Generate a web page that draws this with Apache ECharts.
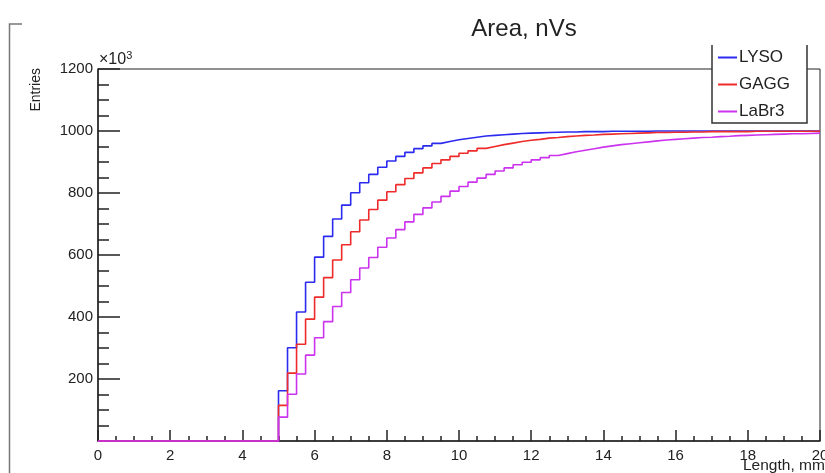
<!DOCTYPE html>
<html>
<head>
    <meta charset="utf-8">
    <title>Area, nVs</title>
    <script src="https://cdn.jsdelivr.net/npm/echarts@6/dist/echarts.min.js"></script>
    <style>
        html, body { margin: 0; padding: 0; background: #fff; }
        #main { width: 825px; height: 473px; }
    </style>
</head>
<body>
<div id="main"></div>
<script type="text/javascript">
    // histogram: 80 bins of 0.25 mm from 0 to 20 mm, values in units of 10^3
    var binWidth = 0.25;
    var xTicks = [0, 2, 4, 6, 8, 10, 12, 14, 16, 18, 20];
    var yTicks = [200, 400, 600, 800, 1000, 1200];

    var lyso = [
        0, 0, 0, 0, 0, 0, 0, 0, 0, 0, 0, 0, 0, 0, 0, 0, 0, 0, 0, 0,
        162, 301, 416, 512, 593, 660, 716, 761, 801, 833, 860, 883, 903, 918, 931, 943, 952, 960, 966, 972,
        976, 980, 984, 986, 988, 990, 992, 993, 994, 995, 996, 997, 997, 998, 998, 998, 999, 999, 999, 999,
        999, 1000, 1000, 1000, 1000, 1000, 1000, 1000, 1000, 1000, 1000, 1000, 1000, 1000, 1000, 1000, 1000, 1000, 1000, 1000
    ];
    var gagg = [
        0, 0, 0, 0, 0, 0, 0, 0, 0, 0, 0, 0, 0, 0, 0, 0, 0, 0, 0, 0,
        115, 219, 312, 393, 464, 527, 584, 633, 675, 713, 747, 777, 804, 827, 847, 865, 881, 895, 907, 918,
        928, 936, 944, 950, 956, 961, 966, 970, 973, 977, 979, 982, 984, 986, 987, 989, 990, 991, 992, 993,
        994, 995, 995, 996, 996, 997, 997, 998, 998, 998, 998, 998, 999, 999, 999, 999, 999, 999, 999, 999
    ];
    var labr3 = [
        0, 0, 0, 0, 0, 0, 0, 0, 0, 0, 0, 0, 0, 0, 0, 0, 0, 0, 0, 0,
        77, 151, 216, 277, 333, 385, 434, 479, 520, 558, 592, 625, 655, 682, 707, 731, 752, 771, 789, 806,
        821, 835, 848, 860, 871, 881, 891, 899, 907, 914, 921, 927, 933, 938, 943, 948, 952, 956, 959, 962,
        965, 968, 971, 973, 975, 977, 979, 980, 982, 983, 985, 986, 987, 988, 989, 990, 991, 991, 992, 993
    ];

    function histPoints(values) {
        var pts = [];
        for (var i = 0; i < values.length; i++) {
            pts.push([i * binWidth, values[i]]);
        }
        // close the last bin at its upper edge
        pts.push([values.length * binWidth, values[values.length - 1]]);
        return pts;
    }

    var myChart = echarts.init(document.getElementById('main'));
    var font = 'Liberation Sans, Arial, sans-serif';

    var option = {
        animation: false,
        backgroundColor: '#fff',
        textStyle: { fontFamily: font },
        title: {
            text: 'Area, nVs',
            left: 519,
            top: 12,
            textAlign: 'center',
            textStyle: { fontSize: 24, fontWeight: 'normal', color: '#222', fontFamily: font }
        },
        legend: {
            data: ['LYSO', 'GAGG', 'LaBr3'],
            orient: 'vertical',
            left: 713,
            top: 44,
            itemWidth: 19,
            itemHeight: 2,
            itemGap: 10,
            icon: 'rect',
            z: 200,
            textStyle: { fontSize: 17, color: '#222', fontFamily: font, padding: [0, 0, 0, -3] }
        },
        grid: {
            left: 98, top: 69, right: 5, bottom: 32,
            show: true, borderColor: '#222', borderWidth: 1,
            containLabel: false,
            outerBoundsMode: 'none'
        },
        xAxis: {
            type: 'value',
            min: 0, max: 20, interval: 2,
            axisLine: { show: true, onZero: false, lineStyle: { color: '#222', width: 1.5 } },
            axisTick: { show: true, inside: true, length: 11, lineStyle: { color: '#222', width: 1.5 } },
            minorTick: { show: true, splitNumber: 4, length: 5, lineStyle: { color: '#222', width: 1.5 } },
            splitLine: { show: false },
            axisLabel: {
                fontSize: 15, color: '#222', margin: 7, fontFamily: font, hideOverlap: false,
                formatter: function (v) { return xTicks.indexOf(v) >= 0 ? String(v) : ''; }
            }
        },
        yAxis: {
            type: 'value',
            min: 0, max: 1200, interval: 200,
            axisLine: { show: true, lineStyle: { color: '#222', width: 1.5 } },
            axisTick: { show: true, inside: true, length: 22, lineStyle: { color: '#222', width: 1.5 } },
            minorTick: { show: true, splitNumber: 4, length: 11, lineStyle: { color: '#222', width: 1.5 } },
            splitLine: { show: false },
            axisLabel: {
                fontSize: 15, color: '#222', margin: 5, fontFamily: font,
                formatter: function (v) { return yTicks.indexOf(v) >= 0 ? String(v) : ''; }
            }
        },
        graphic: [
            // white box under the legend, with left/bottom/right border
            { type: 'rect', z: 100, shape: { x: 712, y: 40, width: 95, height: 83 }, style: { fill: '#fff' } },
            { type: 'polyline', z: 101, shape: { points: [[712, 45], [712, 123], [807, 123], [807, 45]] },
              style: { stroke: '#333', lineWidth: 1.5, fill: null } },
            // pad frame
            { type: 'polyline', z: 1, shape: { points: [[22, 24], [9.5, 24], [9.5, 473]] },
              style: { stroke: '#777', lineWidth: 1.5, fill: null } },
            { type: 'text', z: 10, x: 36, y: 68, rotation: Math.PI / 2,
              style: { text: 'Entries', fontSize: 14, fill: '#222', fontFamily: font, align: 'right', verticalAlign: 'middle' } },
            { type: 'text', z: 10, x: 99, y: 70,
              style: { text: '{a|×10}{b|3}', fontFamily: font, verticalAlign: 'bottom',
                rich: { a: { fontSize: 16, fill: '#222', fontFamily: font }, b: { fontSize: 11, fill: '#222', fontFamily: font, padding: [0, 0, 9, 0] } } } },
            { type: 'text', z: 10, x: 743, y: 458,
              style: { text: 'Length, mm', fontSize: 15.5, fill: '#222', fontFamily: font, align: 'left', verticalAlign: 'top' } }
        ],
        series: [
            { name: 'LYSO', type: 'line', step: 'end', symbol: 'none', clip: false,
              itemStyle: { color: '#2b2bf0' }, lineStyle: { color: '#2b2bf0', width: 1.6 }, data: histPoints(lyso) },
            { name: 'GAGG', type: 'line', step: 'end', symbol: 'none', clip: false,
              itemStyle: { color: '#ee2b2b' }, lineStyle: { color: '#ee2b2b', width: 1.6 }, data: histPoints(gagg) },
            { name: 'LaBr3', type: 'line', step: 'end', symbol: 'none', clip: false,
              itemStyle: { color: '#cc33ee' }, lineStyle: { color: '#cc33ee', width: 1.6 }, data: histPoints(labr3) }
        ]
    };

    myChart.setOption(option);
</script>
</body>
</html>
